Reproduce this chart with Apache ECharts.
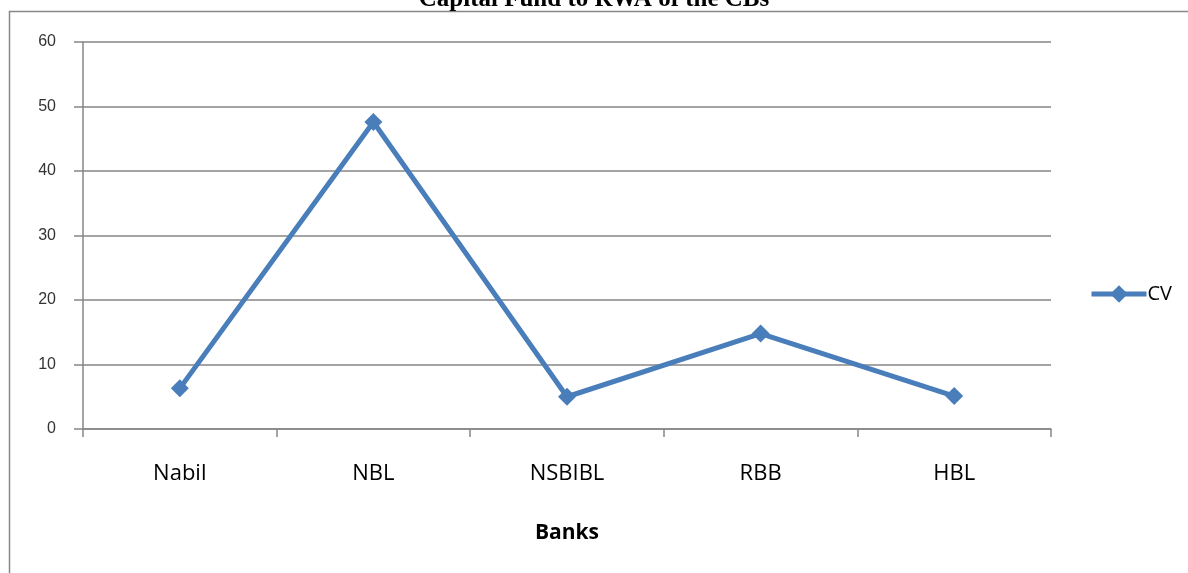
<!DOCTYPE html>
<html>
<head>
<meta charset="utf-8">
<script src="https://cdn.jsdelivr.net/npm/echarts@6/dist/echarts.min.js"></script>
<style>
  html, body { margin: 0; padding: 0; background: #fff; }
  #chart { width: 1188px; height: 573px; }
</style>
</head>
<body>
<div id="chart"></div>
<script>
  // data
  const banks = ['Nabil', 'NBL', 'NSBIBL', 'RBB', 'HBL'];
  const cvValues = [6.3, 47.6, 5.0, 14.8, 5.1];
  const yTicks = { min: 0, max: 60, step: 10 };

  const chart = echarts.init(document.getElementById('chart'));

  const option = {
    animation: false,
    title: {
      text: 'Capital Fund to RWA of the CBs',
      left: 'center',
      top: -18,
      textStyle: {
        fontFamily: 'Liberation Serif',
        fontSize: 25,
        fontWeight: 'bold',
        color: '#000'
      }
    },
    graphic: [
      {
        type: 'rect',
        shape: { x: 9.5, y: 11.5, width: 1300, height: 700 },
        style: { fill: 'none', stroke: '#888', lineWidth: 1.5 },
        silent: true
      }
    ],
    legend: {
      left: 1084,
      top: 279,
      itemWidth: 55,
      itemHeight: 22,
      lineStyle: { width: 5 },
      textStyle: { fontFamily: 'Open Sans', fontSize: 20, color: '#000', padding: [0, 0, 0, -4] },
      data: ['CV']
    },
    grid: {
      left: 83,
      right: 137,
      top: 42,
      bottom: 144
    },
    xAxis: {
      type: 'category',
      data: banks,
      boundaryGap: true,
      name: 'Banks',
      nameLocation: 'middle',
      nameGap: 94,
      nameTextStyle: {
        fontFamily: 'Open Sans',
        fontSize: 21,
        fontWeight: 'bold',
        color: '#000'
      },
      axisLine: { lineStyle: { color: '#868686', width: 1.5 } },
      axisTick: { show: true, length: 8, lineStyle: { color: '#868686', width: 1.5 } },
      axisLabel: {
        margin: 34,
        fontFamily: 'Open Sans',
        fontSize: 22,
        color: '#000'
      }
    },
    yAxis: {
      type: 'value',
      min: yTicks.min,
      max: yTicks.max,
      interval: yTicks.step,
      axisLine: { show: true, lineStyle: { color: '#868686', width: 1.5 } },
      axisTick: { show: true, length: 9, lineStyle: { color: '#868686', width: 1.5 } },
      axisLabel: {
        margin: 27,
        fontFamily: 'Liberation Sans',
        fontSize: 16,
        color: '#333'
      },
      splitLine: { show: true, lineStyle: { color: '#868686', width: 1.5 } }
    },
    series: [
      {
        name: 'CV',
        type: 'line',
        data: cvValues,
        symbol: 'diamond',
        symbolSize: 18,
        lineStyle: { color: '#4a7ebb', width: 5 },
        itemStyle: { color: '#4a7ebb' }
      }
    ]
  };

  chart.setOption(option);
</script>
</body>
</html>
